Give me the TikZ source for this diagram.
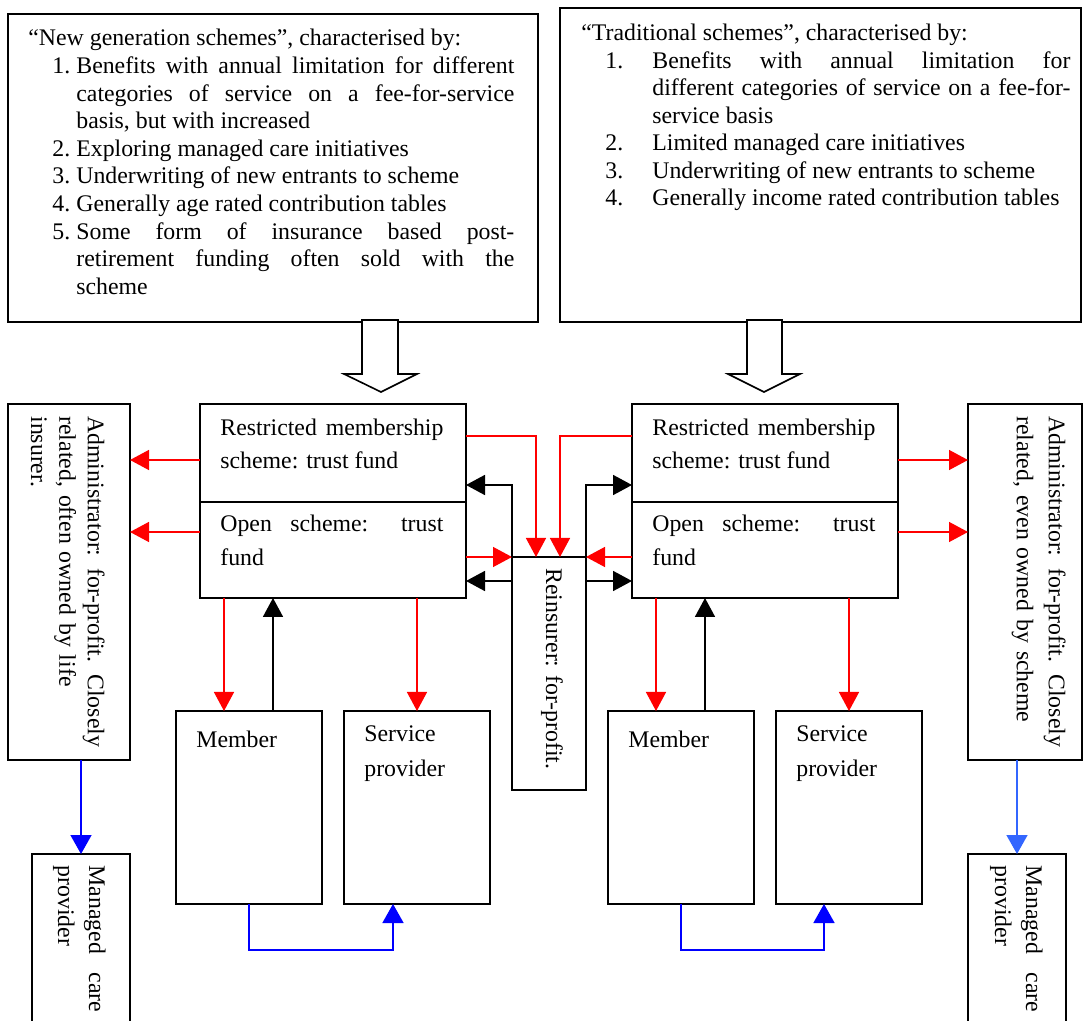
\documentclass[tikz,border=0pt]{standalone}
\usepackage{fontspec}
\setmainfont{Liberation Serif}
\usetikzlibrary{arrows.meta, calc}
\definecolor{flowblue}{RGB}{0,0,255}
\definecolor{paleblue}{RGB}{51,102,255}
\hyphenpenalty=10000
\tolerance=9999
\newcommand{\fsz}[1]{\fontsize{11.9pt}{#1}\selectfont}
\newcommand{\listno}[3]{\par\noindent\hangindent=#1\hangafter=0\llap{\makebox[#2][l]{#3}}}
\tikzset{
  box/.style={draw, line width=0.9pt, inner sep=0pt, outer sep=0pt, anchor=north west},
  lbl/.style={anchor=north west, inner sep=0pt, align=justify},
  tag/.style={anchor=north west, inner sep=0pt, align=left},
  redarr/.style={draw=red, line width=0.7pt, -{Triangle[length=9.5pt, width=10pt]}},
  blkarr/.style={draw=black, line width=0.85pt, -{Triangle[length=9.5pt, width=10pt]}},
  bluarr/.style={draw=#1, line width=0.8pt, -{Triangle[length=9.5pt, width=10.5pt]}},
  bluarr/.default=flowblue,
  hollow/.style={draw, fill=white, line width=0.8pt, line join=miter}
}

\begin{document}
\begin{tikzpicture}[x=0.5pt, y=-0.5pt]
  \useasboundingbox (0,0) rectangle (1083,1021);
  \clip (0,0) rectangle (1083,1021);

  % Characteristics of the two kinds of scheme
  \node[box, minimum width=265pt, minimum height=154pt] (newgen) at (8,14) {};
  \node[box, minimum width=260.5pt, minimum height=157pt] (trad) at (560,8) {};
  \node[lbl, text width=243pt, font={\fsz{13.8pt}}] (newgentext) at (28,29) {“New generation schemes”, characterised by:%
    \listno{24pt}{12pt}{1.}Benefits with annual limitation for different\linebreak categories of service on a fee-for-service\linebreak basis, but with increased%
    \listno{24pt}{12pt}{2.}Exploring managed care initiatives%
    \listno{24pt}{12pt}{3.}Underwriting of new entrants to scheme%
    \listno{24pt}{12pt}{4.}Generally age rated contribution tables%
    \listno{24pt}{12pt}{5.}Some form of insurance based post-\linebreak retirement funding often sold with the\linebreak scheme\par};
  \node[lbl, text width=244.5pt, font={\fsz{13.75pt}}] (tradtext) at (581,24) {“Traditional schemes”, characterised by:%
    \listno{35.5pt}{23.5pt}{1.}Benefits with annual limitation for\linebreak different categories of service on a fee-for-\linebreak service basis%
    \listno{35.5pt}{23.5pt}{2.}Limited managed care initiatives%
    \listno{35.5pt}{23.5pt}{3.}Underwriting of new entrants to scheme%
    \listno{35.5pt}{23.5pt}{4.}Generally income rated contribution tables\par};

  % Hollow arrows down to the schemes
  \draw[hollow] (362,320) -- (362,374) -- (344,374) -- (381,392) -- (417,374) -- (398,374) -- (398,320) -- cycle;
  \draw[hollow] (747,320) -- (747,374) -- (728,374) -- (764,392) -- (800,374) -- (782,374) -- (782,320) -- cycle;

  % Administrators
  \node[box, minimum width=61pt, minimum height=178pt] (ladmin) at (8,404) {};
  \node[box, minimum width=57pt, minimum height=178pt] (radmin) at (968,404) {};
  \node[tag, rotate=-90, text width=175pt, font={\fsz{14.2pt}}] (ladmintext) at (105,416) {Administrator: for-profit. Closely\\related, often owned by life\\insurer.};
  \node[tag, rotate=-90, text width=175pt, font={\fsz{16pt}}] (radmintext) at (1066,416) {Administrator: for-profit. Closely\\related, even owned by scheme};

  % Schemes
  \node[box, minimum width=133pt, minimum height=49pt] (lrestr) at (200,404) {};
  \node[box, minimum width=133pt, minimum height=48pt] (lopen) at (200,502) {};
  \node[box, minimum width=133pt, minimum height=49pt] (rrestr) at (632,404) {};
  \node[box, minimum width=133pt, minimum height=48pt] (ropen) at (632,502) {};
  \node[lbl, text width=111.5pt, font={\fsz{16.5pt}}] (lrestrtext) at (220,419) {Restricted membership scheme: trust fund};
  \node[lbl, text width=111.5pt, font={\fsz{17pt}}] (lopentext) at (220,515) {Open scheme: trust fund};
  \node[lbl, text width=111.5pt, font={\fsz{16.5pt}}] (rrestrtext) at (652,419) {Restricted membership scheme: trust fund};
  \node[lbl, text width=111.5pt, font={\fsz{17pt}}] (ropentext) at (652,515) {Open scheme: trust fund};

  % Reinsurer
  \node[box, minimum width=37pt, minimum height=116.5pt] (reins) at (512,557) {};
  \node[tag, rotate=-90, anchor=west, font={\fsz{14pt}}] (reinstext) at (552,568) {Reinsurer: for-profit.};

  % Members and service providers
  \node[box, minimum width=73pt, minimum height=96.5pt] (lmember) at (176,711) {};
  \node[box, minimum width=73pt, minimum height=96.5pt] (lprov) at (344,711) {};
  \node[box, minimum width=73pt, minimum height=96.5pt] (rmember) at (608,711) {};
  \node[box, minimum width=73pt, minimum height=96.5pt] (rprov) at (776,711) {};
  \node[tag, font={\fsz{17.5pt}}] (lmembertext) at (196,731) {Member};
  \node[tag, font={\fsz{17.5pt}}] (lprovtext) at (364,725) {Service\\provider};
  \node[tag, font={\fsz{17.5pt}}] (rmembertext) at (628,731) {Member};
  \node[tag, font={\fsz{17.5pt}}] (rprovtext) at (796,725) {Service\\provider};

  % Managed care providers
  \node[box, minimum width=49pt, minimum height=92pt] (lmc) at (32,854) {};
  \node[box, minimum width=49pt, minimum height=92pt] (rmc) at (968,854) {};
  \node[lbl, rotate=-90, text width=73.5pt, font={\fsz{15.5pt}}] (lmctext) at (106,865) {Managed care provider};
  \node[lbl, rotate=-90, text width=73.5pt, font={\fsz{15.5pt}}] (rmctext) at (1043,865) {Managed care provider};

  % Schemes to administrators
  \draw[redarr] (lrestr.west |- 0,460) -- (ladmin.east |- 0,460);
  \draw[redarr] (lopen.west |- 0,532) -- (ladmin.east |- 0,532);
  \draw[redarr] (rrestr.east |- 0,460) -- (radmin.west |- 0,460);
  \draw[redarr] (ropen.east |- 0,532) -- (radmin.west |- 0,532);

  % Schemes and reinsurer
  \draw[redarr] (lrestr.east |- 0,436) -| ($(reins.north west)+(24,0)$);
  \draw[redarr] (rrestr.west |- 0,436) -| ($(reins.north east)+(-26,0)$);
  \draw[redarr] (lopen.east |- reins.north west) -- (reins.north west);
  \draw[redarr] (ropen.west |- reins.north east) -- (reins.north east);
  \draw[blkarr] (reins.north west) |- (lrestr.east |- 0,485);
  \draw[blkarr] (reins.north east) |- (rrestr.west |- 0,485);
  \draw[blkarr] (reins.west |- 0,581) -- (lopen.east |- 0,581);
  \draw[blkarr] (reins.east |- 0,581) -- (ropen.west |- 0,581);

  % Schemes, members and providers
  \draw[redarr] (lopen.south -| {$(lmember.north west)+(48,0)$}) -- ($(lmember.north west)+(48,0)$);
  \draw[redarr] (lopen.south -| lprov.north) -- (lprov.north);
  \draw[blkarr] ($(lmember.north west)+(97,0)$) -- (lopen.south -| {$(lmember.north west)+(97,0)$});
  \draw[redarr] (ropen.south -| {$(rmember.north west)+(48,0)$}) -- ($(rmember.north west)+(48,0)$);
  \draw[redarr] (ropen.south -| rprov.north) -- (rprov.north);
  \draw[blkarr] ($(rmember.north west)+(97,0)$) -- (ropen.south -| {$(rmember.north west)+(97,0)$});
  \draw[bluarr] (lmember.south) -- ++(0,46) -| ($(lprov.south west)+(49,0)$);
  \draw[bluarr] (rmember.south) -- ++(0,46) -| ($(rprov.south west)+(48,0)$);

  % Administrators to managed care
  \draw[bluarr] (ladmin.south -| lmc.north) -- (lmc.north);
  \draw[bluarr=paleblue] (radmin.south -| rmc.north) -- (rmc.north);
\end{tikzpicture}
\end{document}
